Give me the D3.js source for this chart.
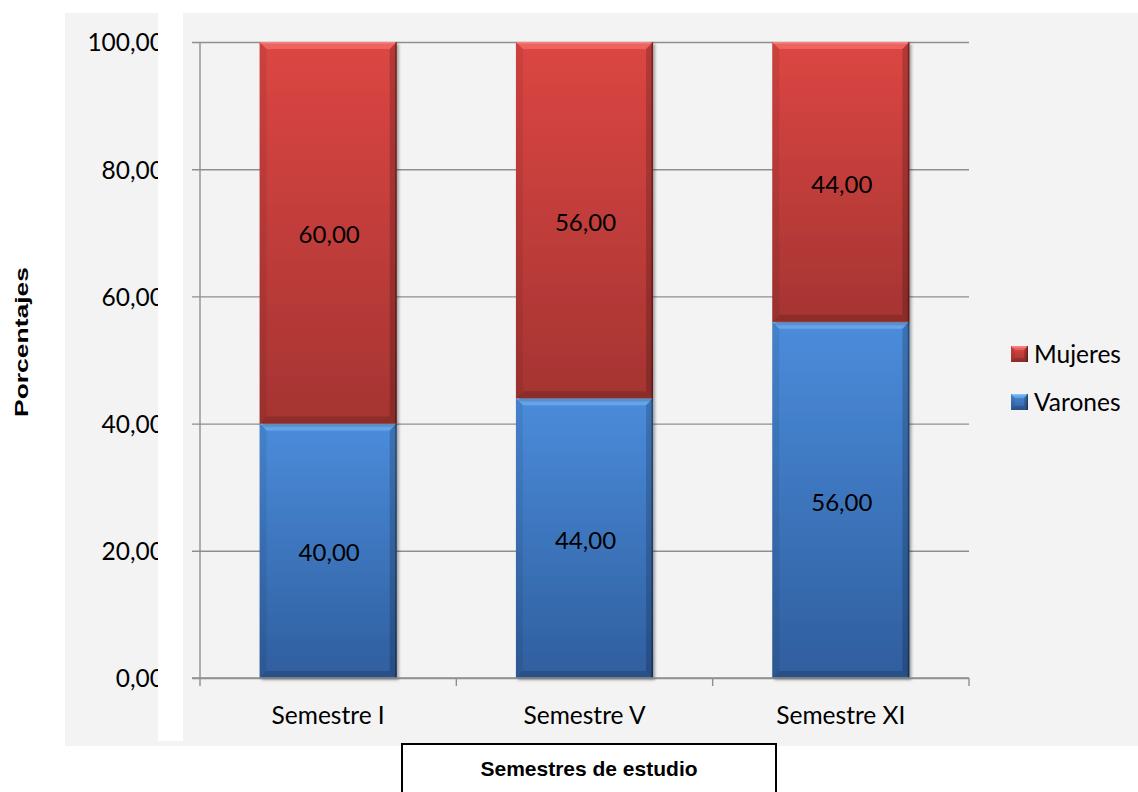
<!DOCTYPE html>
<html>
<head>
<meta charset="utf-8">
<script src="https://cdn.jsdelivr.net/npm/d3@7"></script>
<style>
  html, body { margin: 0; padding: 0; background: #ffffff; }
  svg { display: block; }
</style>
</head>
<body>
<svg id="chart" width="1138" height="792"></svg>
<script>
// Students by semester, split by sex (percent)
const categories = ["Semestre I", "Semestre V", "Semestre XI"];
const varones = [40, 44, 56];
const mujeres = [60, 56, 44];
const seriesNames = ["Varones", "Mujeres"];
const yTicks = [0, 20, 40, 60, 80, 100];

const svg = d3.select("#chart");
const W = 1138, H = 792;
const plot = { left: 200, right: 969, top: 42, bottom: 678 };
const labelFont = "Lato, 'Open Sans', sans-serif";
const labelSize = 24.5;

const rows = categories.map((c, i) => ({ cat: c, Varones: varones[i], Mujeres: mujeres[i] }));
const stacked = d3.stack().keys(seriesNames)(rows);

const x = d3.scaleBand()
  .domain(categories)
  .range([plot.left, plot.right])
  .paddingInner(0.465)
  .paddingOuter(0.2325);
const y = d3.scaleLinear().domain([0, 100]).range([plot.bottom, plot.top]);

const fmt = v => d3.format(".2f")(v).replace(".", ",");

// ---- defs: gradients, shadow
const defs = svg.append("defs");
const palette = {
  Mujeres: { top: "#dc4643", bottom: "#a53432", hi: "#ff8a86" },
  Varones: { top: "#4b8cdb", bottom: "#2f5e9e", hi: "#8cc4ff" }
};
Object.entries(palette).forEach(([k, p]) => {
  const g = defs.append("linearGradient").attr("id", "grad-" + k)
    .attr("x1", 0).attr("y1", 0).attr("x2", 0).attr("y2", 1);
  g.append("stop").attr("offset", "0%").attr("stop-color", p.top);
  g.append("stop").attr("offset", "100%").attr("stop-color", p.bottom);
});
const sh = defs.append("filter").attr("id", "shadow")
  .attr("x", "-10%").attr("y", "-10%").attr("width", "130%").attr("height", "130%");
sh.append("feDropShadow").attr("dx", 2).attr("dy", 2).attr("stdDeviation", 1.6)
  .attr("flood-color", "#000").attr("flood-opacity", 0.35);

// ---- background panel
svg.append("rect").attr("x", 65).attr("y", 13).attr("width", W - 65).attr("height", 733)
  .attr("fill", "#f3f3f3");

// ---- y gridlines / axis
const yAxis = d3.axisLeft(y).tickValues(yTicks).tickFormat(fmt)
  .tickSizeInner(-(plot.right - plot.left)).tickSizeOuter(0).tickPadding(36);
const gy = svg.append("g").attr("transform", `translate(${plot.left},0)`).call(yAxis);
gy.select(".domain").remove();
gy.selectAll(".tick line").attr("x1", -8).attr("x2", plot.right - plot.left)
  .attr("stroke", "#8f8f8f").attr("stroke-width", 1.4);
gy.selectAll(".tick text").attr("fill", "#000").attr("font-family", labelFont)
  .attr("font-size", labelSize).attr("dy", "0.36em");

// ---- bars with bevel
function bevel(g, x0, y0, w, h, b, p) {
  g.append("polygon")
    .attr("points", [[x0, y0], [x0 + w, y0], [x0 + w - b, y0 + b], [x0 + b, y0 + b]].join(" "))
    .attr("fill", p.hi).attr("fill-opacity", 0.45);
  g.append("polygon")
    .attr("points", [[x0, y0], [x0 + b, y0 + b], [x0 + b, y0 + h - b], [x0, y0 + h]].join(" "))
    .attr("fill", "#000").attr("fill-opacity", 0.07);
  g.append("polygon")
    .attr("points", [[x0 + w, y0], [x0 + w, y0 + h], [x0 + w - b, y0 + h - b], [x0 + w - b, y0 + b]].join(" "))
    .attr("fill", "#000").attr("fill-opacity", 0.18);
  g.append("polygon")
    .attr("points", [[x0, y0 + h], [x0 + b, y0 + h - b], [x0 + w - b, y0 + h - b], [x0 + w, y0 + h]].join(" "))
    .attr("fill", "#000").attr("fill-opacity", 0.15);
  g.append("line").attr("x1", x0 + 1).attr("x2", x0 + w - 1).attr("y1", y0 + 0.8).attr("y2", y0 + 0.8)
    .attr("stroke", p.hi).attr("stroke-opacity", 0.8).attr("stroke-width", 1.6);
  g.append("line").attr("x1", x0 + w - 0.8).attr("x2", x0 + w - 0.8).attr("y1", y0).attr("y2", y0 + h)
    .attr("stroke", "#000").attr("stroke-opacity", 0.35).attr("stroke-width", 1.6);
}

const barsG = svg.append("g");
stacked.forEach(layer => {
  const key = layer.key;
  layer.forEach(d => {
    const x0 = x(d.data.cat), w = x.bandwidth();
    const y0 = y(d[1]), h = y(d[0]) - y(d[1]);
    const g = barsG.append("g");
    g.append("rect").attr("x", x0).attr("y", y0).attr("width", w).attr("height", h)
      .attr("fill", `url(#grad-${key})`).attr("filter", "url(#shadow)");
    bevel(g, x0, y0, w, h, 7, palette[key]);
  });
});

// ---- value labels
stacked.forEach(layer => {
  layer.forEach(d => {
    svg.append("text")
      .attr("x", x(d.data.cat) + x.bandwidth() / 2 + 1)
      .attr("y", y((d[0] + d[1]) / 2) + 2)
      .attr("dy", "0.36em")
      .attr("text-anchor", "middle")
      .attr("font-family", labelFont).attr("font-size", 24).attr("fill", "#000")
      .text(fmt(d[1] - d[0]));
  });
});

// ---- axes lines
const axisColor = "#8f8f8f";
svg.append("line").attr("x1", plot.left).attr("x2", plot.left)
  .attr("y1", plot.top).attr("y2", plot.bottom + 8)
  .attr("stroke", axisColor).attr("stroke-width", 1.4);
svg.append("line").attr("x1", plot.left - 8).attr("x2", plot.right)
  .attr("y1", plot.bottom).attr("y2", plot.bottom)
  .attr("stroke", axisColor).attr("stroke-width", 1.4);
const step = x.step();
categories.forEach((c, i) => {
  const bx = plot.left + step * (i + 1);
  svg.append("line").attr("x1", bx).attr("x2", bx)
    .attr("y1", plot.bottom).attr("y2", plot.bottom + 8)
    .attr("stroke", axisColor).attr("stroke-width", 1.4);
});

// ---- category labels
const xAxis = d3.axisBottom(x).tickSize(0).tickPadding(0);
const gx = svg.append("g").attr("transform", `translate(0,${plot.bottom})`).call(xAxis);
gx.select(".domain").remove();
gx.selectAll(".tick text").attr("y", 46).attr("dy", 0).attr("fill", "#000")
  .attr("font-family", labelFont).attr("font-size", labelSize);

// ---- white strip that crops the y tick labels
svg.append("rect").attr("x", 158).attr("y", 13).attr("width", 25).attr("height", 728)
  .attr("fill", "#ffffff");

// ---- y title
svg.append("text")
  .attr("transform", "translate(28,342) rotate(-90)")
  .attr("text-anchor", "middle")
  .attr("font-family", "'Liberation Sans', Arial, sans-serif")
  .attr("font-weight", "bold").attr("font-size", 19)
  .attr("textLength", 150).attr("lengthAdjust", "spacingAndGlyphs")
  .attr("fill", "#000")
  .text("Porcentajes");

// ---- x title in box
svg.append("rect").attr("x", 402).attr("y", 744).attr("width", 374).attr("height", 60)
  .attr("fill", "#ffffff").attr("stroke", "#000").attr("stroke-width", 2);
svg.append("text")
  .attr("x", 589).attr("y", 776)
  .attr("text-anchor", "middle")
  .attr("font-family", "'Liberation Sans', Arial, sans-serif")
  .attr("font-weight", "bold").attr("font-size", 21)
  .attr("fill", "#000")
  .text("Semestres de estudio");

// ---- legend
const legendItems = ["Mujeres", "Varones"];
legendItems.forEach((k, i) => {
  const ly = 346 + i * 48;
  const g = svg.append("g");
  const p = palette[k];
  g.append("rect").attr("x", 1011).attr("y", ly).attr("width", 17).attr("height", 16)
    .attr("fill", `url(#grad-${k})`);
  bevel(g, 1011, ly, 17, 16, 4, p);
  g.append("text").attr("x", 1034).attr("y", ly + 8).attr("dy", "0.36em")
    .attr("font-family", labelFont).attr("font-size", labelSize).attr("fill", "#000")
    .text(k);
});
</script>
</body>
</html>
